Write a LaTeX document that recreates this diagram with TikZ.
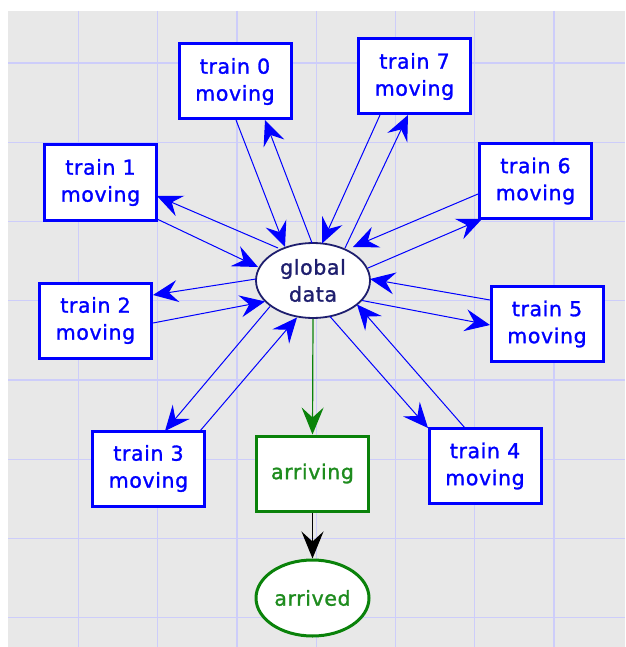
\documentclass[tikz,border=0pt]{standalone}
\usepackage{fontspec}
\setmainfont{DejaVu Sans}
\newfontfamily\lblfont{DejaVu Sans}[LetterSpace=3,FakeBold=1.3]
\usetikzlibrary{arrows.meta,shapes.geometric,calc}

\definecolor{canvasgray}{RGB}{232,232,232}
\definecolor{gridlav}{RGB}{205,205,250}
\definecolor{navyblue}{RGB}{30,30,110}
\definecolor{stategreen}{RGB}{10,130,10}
\definecolor{textgreen}{RGB}{30,140,30}

\tikzset{
  lbl/.style={font={\lblfont\fontsize{20.5}{27}\selectfont}, align=center, inner sep=0pt},
  trainbox/.style={lbl, rectangle, draw=blue, line width=3pt, fill=white, text=blue,
    minimum width=112pt, minimum height=75pt},
  globalnode/.style={lbl, ellipse, draw=navyblue, line width=1.8pt, fill=white, text=navyblue,
    minimum width=114pt, minimum height=75pt},
  arrivingbox/.style={lbl, rectangle, draw=stategreen, line width=3pt, fill=white, text=textgreen,
    minimum width=112pt, minimum height=75pt},
  arrivednode/.style={lbl, ellipse, draw=stategreen, line width=3pt, fill=white, text=textgreen,
    minimum width=113pt, minimum height=76pt},
  conn/.style={draw=blue, line width=1pt,
    -{Stealth[length=25pt,width=22pt,inset=9pt,fill=blue]}},
}

\begin{document}
\begin{tikzpicture}[x=1pt,y=-1pt]
  \useasboundingbox (0,0) rectangle (625,647);
  \fill[white] (0,0) rectangle (625,647);
  \fill[canvasgray] (8,11) rectangle (625,647);
  % background grid
  \foreach \i in {1,...,7}
    \draw[gridlav, line width=1.2pt] ({-0.75+79.25*\i},11) -- ++(0,636);
  \foreach \i in {0,...,7}
    \draw[gridlav, line width=1.2pt] (8,{63+79.25*\i}) -- (625,{63+79.25*\i});

  % shared data and the train states around it
  \node[globalnode] (g) at (313,280.5) {global\\data};
  \node[trainbox] (t0) at (235,81.5) {train 0\\moving};
  \node[trainbox] (t7) at (414.5,76.5) {train 7\\moving};
  \node[trainbox] (t1) at (100.5,182.5) {train 1\\moving};
  \node[trainbox] (t6) at (535.5,181) {train 6\\moving};
  \node[trainbox] (t2) at (95.5,320.5) {train 2\\moving};
  \node[trainbox] (t5) at (547,324) {train 5\\moving};
  \node[trainbox] (t3) at (148.5,468.5) {train 3\\moving};
  \node[trainbox] (t4) at (485,466) {train 4\\moving};
  \node[arrivingbox] (arr) at (312.5,473.5) {arriving};
  \node[arrivednode] (done) at (312.5,598) {arrived};

  % train 0
  \draw[conn] ($(t0)+(1,38.5)$) -- ($(g)+(-28,-33.5)$);
  \draw[conn] ($(g)+(-1,-37.5)$) -- ($(t0)+(30,38.5)$);
  % train 7
  \draw[conn] ($(t7)+(-34.5,38.5)$) -- ($(g)+(9,-37)$);
  \draw[conn] ($(g)+(32,-32.5)$) -- ($(t7)+(-6.5,38.5)$);
  % train 1
  \draw[conn] ($(t1)+(56.5,36.5)$) -- ($(g)+(-55,-13.5)$);
  \draw[conn] ($(g)+(-35,-32.5)$) -- ($(t1)+(56.5,13.5)$);
  % train 6
  \draw[conn] ($(t6)+(-57.5,13)$) -- ($(g)+(40,-33.5)$);
  \draw[conn] ($(g)+(55,-12.5)$) -- ($(t6)+(-53.5,38)$);
  % train 2
  \draw[conn] ($(g)+(-57,-1.5)$) -- ($(t2)+(57.5,-25.5)$);
  \draw[conn] ($(t2)+(57.5,2.5)$) -- ($(g)+(-48,21)$);
  % train 3
  \draw[conn] ($(g)+(-43,26)$) -- ($(t3)+(16.5,-37.5)$);
  \draw[conn] ($(t3)+(51.5,-37.5)$) -- ($(g)+(-16,37)$);
  % train 5
  \draw[conn] ($(t5)+(-57,-24)$) -- ($(g)+(57,-1.5)$);
  \draw[conn] ($(g)+(49,20)$) -- ($(t5)+(-57,1)$);
  % train 4
  \draw[conn] ($(g)+(17,36)$) -- ($(t4)+(-57,-38)$);
  \draw[conn] ($(t4)+(-20,-38)$) -- ($(g)+(44,24)$);

  % arrival sequence
  \draw[draw=stategreen, line width=1.2pt,
    -{Stealth[length=27pt,width=22pt,inset=10pt,fill=stategreen]}] (g.south) -- (arr.north);
  \draw[draw=black, line width=1.2pt,
    -{Stealth[length=27pt,width=22pt,inset=10pt,fill=black]}] (arr.south) -- (done.north);
\end{tikzpicture}
\end{document}
